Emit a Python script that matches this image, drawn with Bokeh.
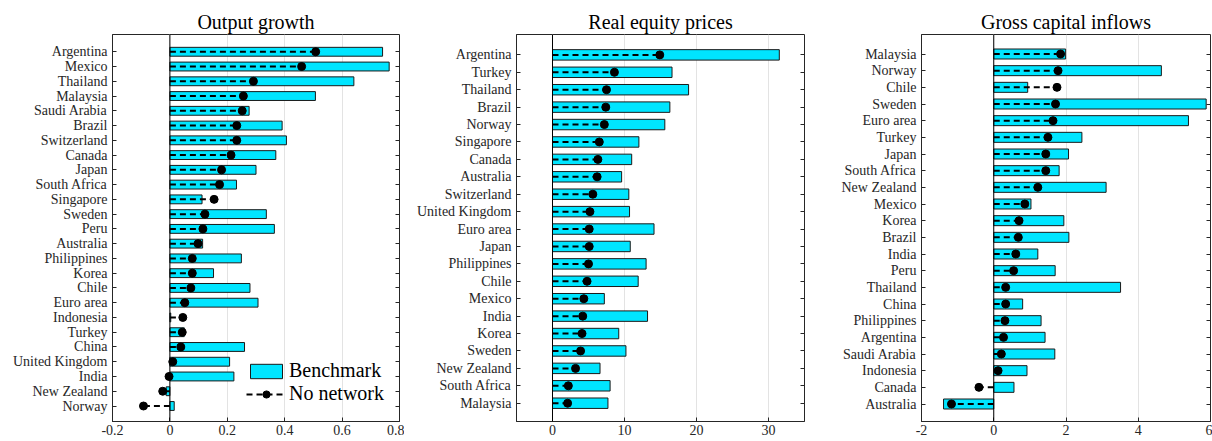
from bokeh.plotting import figure
from bokeh.models import (Range1d, FixedTicker, LinearAxis, Span, Legend, LegendItem,
                          CustomJSTickFormatter, ColumnDataSource, CustomLabelingPolicy)
from bokeh.layouts import row
from bokeh.embed import file_html
from bokeh.resources import INLINE

# ---------------- data ----------------
out_countries = ["Argentina", "Mexico", "Thailand", "Malaysia", "Saudi Arabia", "Brazil",
                 "Switzerland", "Canada", "Japan", "South Africa", "Singapore", "Sweden",
                 "Peru", "Australia", "Philippines", "Korea", "Chile", "Euro area",
                 "Indonesia", "Turkey", "China", "United Kingdom", "India", "New Zealand",
                 "Norway"]
out_bench = [0.741, 0.764, 0.641, 0.507, 0.276, 0.391, 0.406, 0.369, 0.300, 0.232, 0.112,
             0.336, 0.364, 0.114, 0.249, 0.152, 0.279, 0.307, 0.003, 0.050, 0.260, 0.208,
             0.223, -0.013, 0.015]
out_nonet = [0.508, 0.459, 0.291, 0.256, 0.252, 0.233, 0.233, 0.213, 0.180, 0.173, 0.154,
             0.122, 0.115, 0.098, 0.078, 0.078, 0.073, 0.052, 0.045, 0.043, 0.038, 0.010,
             -0.003, -0.025, -0.092]
out_xticks = [-0.2, 0, 0.2, 0.4, 0.6, 0.8]

eq_countries = ["Argentina", "Turkey", "Thailand", "Brazil", "Norway", "Singapore", "Canada",
                "Australia", "Switzerland", "United Kingdom", "Euro area", "Japan",
                "Philippines", "Chile", "Mexico", "India", "Korea", "Sweden", "New Zealand",
                "South Africa", "Malaysia"]
eq_bench = [31.5, 16.6, 18.9, 16.3, 15.6, 12.0, 11.0, 9.6, 10.6, 10.7, 14.1, 10.8, 13.0,
            11.9, 7.2, 13.2, 9.2, 10.2, 6.6, 8.0, 7.7]
eq_nonet = [14.9, 8.6, 7.5, 7.4, 7.2, 6.5, 6.3, 6.2, 5.6, 5.2, 5.1, 5.1, 5.0, 4.8, 4.35,
            4.2, 4.1, 3.9, 3.2, 2.2, 2.1]
eq_xticks = [0, 10, 20, 30]

cap_countries = ["Malaysia", "Norway", "Chile", "Sweden", "Euro area", "Turkey", "Japan",
                 "South Africa", "New Zealand", "Mexico", "Korea", "Brazil", "India", "Peru",
                 "Thailand", "China", "Philippines", "Argentina", "Saudi Arabia", "Indonesia",
                 "Canada", "Australia"]
cap_bench = [1.99, 4.64, 0.94, 5.88, 5.39, 2.44, 2.07, 1.81, 3.11, 1.03, 1.94, 2.08, 1.22,
             1.70, 3.51, 0.80, 1.31, 1.42, 1.69, 0.92, 0.56, -1.39]
cap_nonet = [1.85, 1.78, 1.75, 1.71, 1.64, 1.50, 1.44, 1.44, 1.22, 0.86, 0.70, 0.68, 0.61,
             0.55, 0.33, 0.33, 0.31, 0.27, 0.21, 0.12, -0.41, -1.17]
cap_xticks = [-2, 0, 2, 4, 6]

# ---------------- style ----------------
FONT = "Liberation Serif"
TXT = "#262626"
BAR = "#00E5FF"
H = 441


def panel(title, countries, bench, nonet, xr, xticks, width, bl, br, legend=False):
    n = len(countries)
    ys = list(range(n, 0, -1))
    src = ColumnDataSource(dict(y=ys, bench=bench, nonet=nonet, zero=[0] * n))
    p = figure(width=width, height=H, x_range=Range1d(*xr),
               y_range=Range1d(1 - 1.05, n + 1.17), output_backend="svg",
               toolbar_location=None, min_border_left=bl, min_border_right=br,
               min_border_top=34, min_border_bottom=20)
    p.background_fill_color = "white"
    p.border_fill_color = "white"
    p.outline_line_color = TXT
    p.outline_line_alpha = 1
    p.outline_line_width = 1

    bars = p.hbar(y="y", left="zero", right="bench", height=0.6, source=src,
                  fill_color=BAR, line_color="#1a1a1a", line_width=1)
    seg = p.segment(x0="zero", y0="y", x1="nonet", y1="y", source=src,
                    line_color="black", line_width=2, line_dash="6 4")
    dots = p.scatter(x="nonet", y="y", source=src, size=8, fill_color="black",
                     line_color="black")

    p.add_layout(Span(location=0, dimension="height", line_color="black", line_width=1))

    # axes
    p.xaxis.ticker = FixedTicker(ticks=xticks)
    p.xaxis.formatter = CustomJSTickFormatter(code="return tick.toString()")
    p.yaxis.ticker = FixedTicker(ticks=ys)
    p.yaxis.major_label_overrides = {y: c for y, c in zip(ys, countries)}
    for ax in (p.xaxis[0], p.yaxis[0]):
        ax.major_tick_in = 4
        ax.major_tick_out = 0
        ax.minor_tick_line_color = None
        ax.axis_line_color = TXT
        ax.major_tick_line_color = TXT
        ax.major_label_text_font = FONT
        ax.major_label_text_font_size = "14px"
        ax.major_label_text_color = TXT
        ax.major_label_standoff = 5
    p.xaxis.major_label_standoff = 3

    rax = LinearAxis(ticker=FixedTicker(ticks=ys),
                     major_label_overrides={y: "" for y in ys},
                     major_label_policy=CustomLabelingPolicy(code="return new Set()"),
                     major_tick_in=4, major_tick_out=0, axis_line_color=None,
                     major_label_standoff=0, minor_tick_line_color=None,
                     major_tick_line_color=TXT)
    p.add_layout(rax, "right")

    p.xgrid.ticker = FixedTicker(ticks=xticks)
    p.xgrid.grid_line_color = "#e3e3e3"
    p.ygrid.visible = False

    p.title.text = title
    p.title.align = "center"
    p.title.text_font = FONT
    p.title.text_font_size = "20px"
    p.title.text_font_style = "normal"
    p.title.text_color = "black"
    p.title.standoff = 3

    if legend:
        lg = Legend(items=[LegendItem(label="Benchmark", renderers=[bars]),
                           LegendItem(label="No network", renderers=[seg, dots])],
                    location=(134, 16), padding=0, margin=0, spacing=0,
                    glyph_width=40, glyph_height=18, label_height=21,
                    label_standoff=3, border_line_color=None,
                    background_fill_alpha=0, label_text_font=FONT,
                    label_text_font_size="20px", label_text_color="black")
        p.add_layout(lg)
    return p


p1 = panel("Output growth", out_countries, out_bench, out_nonet, (-0.2, 0.8), out_xticks,
           404, 112, 5, legend=True)
p2 = panel("Real equity prices", eq_countries, eq_bench, eq_nonet, (-5, 35), eq_xticks,
           404, 112, 4)
p3 = panel("Gross capital inflows", cap_countries, cap_bench, cap_nonet, (-2, 6), cap_xticks,
           404, 113, 2)

layout = row(p1, p2, p3)
open("out.html", "w").write(file_html(layout, INLINE))
